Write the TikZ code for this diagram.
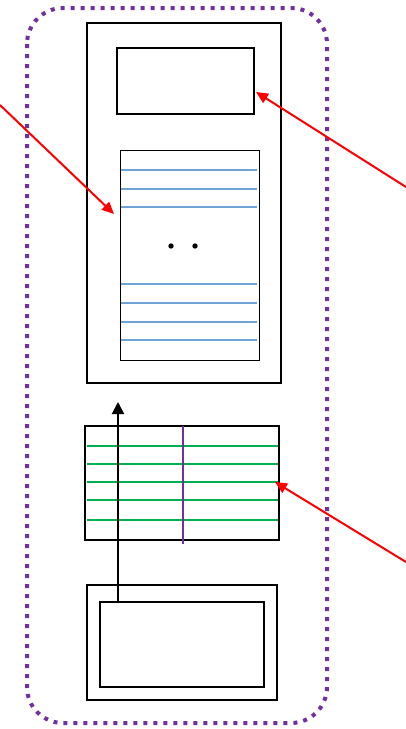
\documentclass[tikz,border=0pt]{standalone}
\usetikzlibrary{arrows.meta,fit}
\definecolor{grpviolet}{RGB}{112,48,160}
\definecolor{rowblue}{RGB}{111,163,216}
\definecolor{rowgreen}{RGB}{0,176,80}
\definecolor{callred}{RGB}{255,0,0}
\begin{document}
\begin{tikzpicture}[x=0.75pt,y=-0.75pt,
  box/.style={draw=black,line width=1.5pt,inner sep=0pt},
  thinbox/.style={draw=black,line width=0.75pt,inner sep=0pt},
  callout/.style={draw=callred,line width=1.5pt,-{Triangle[length=9pt,width=8pt]}},
  flow/.style={draw=black,line width=1.5pt,-{Triangle[length=9pt,width=9pt]}},
  bluerow/.style={draw=rowblue,line width=1pt},
  greenrow/.style={draw=rowgreen,line width=1.2pt}]
  \useasboundingbox (0,0) rectangle (406,729);

  % dotted group border
  \draw[grpviolet,line width=3pt,dash pattern=on 3pt off 4.5pt,rounded corners=27pt]
    (27,8) rectangle (327,723);

  % upper container with header and list
  \node[box,fit={(87,23) (281,383)}] (upper) {};
  \node[box,fit={(117,48) (254,114)}] (header) {};
  \node[thinbox,fit={(120,150) (259,360)}] (list) {};
  \foreach \yy in {170,189,207,284,303,322,340}
    \draw[bluerow] (121,\yy) -- (257,\yy);
  \fill (171,246) circle (2pt);
  \fill (195,246) circle (2pt);

  % middle table
  \node[box,fit={(85,426) (279,540)}] (table) {};
  \foreach \yy in {446,464,482,500,520}
    \draw[greenrow] (87,\yy) -- (278,\yy);
  \draw[grpviolet,line width=0.9pt] (183,426) -- (183,544);

  % lower nested boxes
  \node[box,fit={(87,585) (277,700)}] (lowerout) {};
  \node[box,fit={(100,602) (264,687)}] (lowerin) {};

  % upward flow arrow
  \coordinate (flowtop) at (118,402);
  \draw[flow] (lowerin.north west -| flowtop) -- (flowtop);

  % red callouts
  \coordinate (c1s) at (0,105);
  \coordinate (c1e) at (114,214);
  \coordinate (c2s) at (406,187);
  \coordinate (c2e) at (256,92);
  \coordinate (c3s) at (406,562);
  \coordinate (c3e) at (275,482);
  \draw[callout] (c1s) -- (c1e);
  \draw[callout] (c2s) -- (c2e);
  \draw[callout] (c3s) -- (c3e);
\end{tikzpicture}
\end{document}
